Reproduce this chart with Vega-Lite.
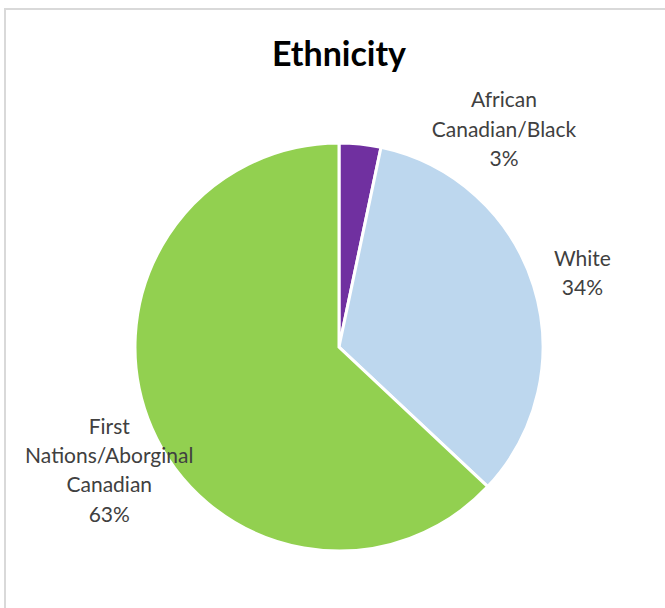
{
  "$schema": "https://vega.github.io/schema/vega-lite/v6.json",
  "width": 668,
  "height": 676,
  "autosize": {"type": "none"},
  "padding": {"left": 5, "top": 9, "right": 0, "bottom": 0},
  "background": "white",
  "view": {"stroke": null},
  "title": {
    "text": "Ethnicity",
    "font": "Lato",
    "fontSize": 34,
    "fontWeight": "bold",
    "color": "#000000",
    "anchor": "middle",
    "baseline": "alphabetic",
    "offset": 0,
    "dy": 92
  },
  "data": {
    "values": [
      {"category": "African Canadian/Black", "value": 3.3, "rank": 1, "label": "African\nCanadian/Black\n3%"},
      {"category": "White", "value": 33.7, "rank": 2, "label": "White\n34%"},
      {"category": "First Nations/Aborginal Canadian", "value": 63, "rank": 3, "label": "First\nNations/Aborginal\nCanadian\n63%"}
    ]
  },
  "layer": [
    {
      "data": {"values": [{"frame": 1}]},
      "mark": {"type": "rect", "fill": null, "stroke": "#d9d9d9", "strokeWidth": 2},
      "encoding": {}
    },
    {
      "mark": {"type": "arc", "outerRadius": 204, "stroke": "white", "strokeWidth": 3},
      "encoding": {
        "theta": {"field": "value", "type": "quantitative", "stack": true},
        "order": {"field": "rank", "type": "quantitative", "sort": "ascending"},
        "color": {
          "field": "category",
          "type": "nominal",
          "scale": {
            "domain": ["African Canadian/Black", "White", "First Nations/Aborginal Canadian"],
            "range": ["#7030A0", "#BDD7EE", "#92D050"]
          },
          "legend": null
        }
      }
    },
    {
      "mark": {"type": "text", "radius": 272, "thetaOffset": 0.548, "dy": -29.3, "font": "Lato", "fontSize": 21, "color": "#404040", "align": "center", "baseline": "middle", "lineBreak": "\n", "lineHeight": 29.3},
      "encoding": {
        "theta": {"field": "value", "type": "quantitative", "stack": true},
        "order": {"field": "rank", "type": "quantitative", "sort": "ascending"},
        "text": {"condition": {"test": "datum.category === 'African Canadian/Black'", "field": "label"}, "value": ""}
      }
    },
    {
      "mark": {"type": "text", "radius": 254, "thetaOffset": 0.015, "dy": -14.7, "font": "Lato", "fontSize": 21, "color": "#404040", "align": "center", "baseline": "middle", "lineBreak": "\n", "lineHeight": 29.3},
      "encoding": {
        "theta": {"field": "value", "type": "quantitative", "stack": true},
        "order": {"field": "rank", "type": "quantitative", "sort": "ascending"},
        "text": {"condition": {"test": "datum.category === 'White'", "field": "label"}, "value": ""}
      }
    },
    {
      "mark": {"type": "text", "radius": 261, "thetaOffset": -0.086, "dy": -43, "font": "Lato", "fontSize": 21, "color": "#404040", "align": "center", "baseline": "middle", "lineBreak": "\n", "lineHeight": 29.3},
      "encoding": {
        "theta": {"field": "value", "type": "quantitative", "stack": true},
        "order": {"field": "rank", "type": "quantitative", "sort": "ascending"},
        "text": {"condition": {"test": "datum.category === 'First Nations/Aborginal Canadian'", "field": "label"}, "value": ""}
      }
    }
  ]
}
